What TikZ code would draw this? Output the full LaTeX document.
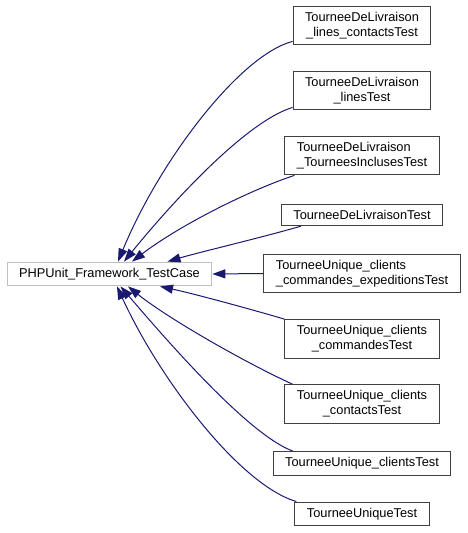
\documentclass[tikz,border=0pt]{standalone}
\usepackage{fontspec}
\setmainfont{Liberation Sans}
\usetikzlibrary{arrows.meta,calc}
\definecolor{edgeblue}{HTML}{191970}
\tikzset{
  class node/.style={draw=black!75,line width=1pt,fill=white,inner xsep=12pt,inner ysep=6pt,font=\fontsize{12.8}{15}\selectfont,align=center},
  base node/.style={class node,draw=black!25},
  inherit edge/.style={edgeblue,line width=1pt,-{Triangle[length=13pt,width=9pt]}},
}

\begin{document}
\begin{tikzpicture}[x=1pt,y=-1pt]
  \useasboundingbox (0,0) rectangle (467,533);
  \node[base node] (base) at (109.5,274) {PHPUnit\_Framework\_TestCase};
  \node[class node] (n1) at (362,25.5) {TourneeDeLivraison\\\_lines\_contactsTest};
  \node[class node] (n2) at (362,90.5) {TourneeDeLivraison\\\_linesTest};
  \node[class node,align=left] (n3) at (362,155.5) {TourneeDeLivraison\\\_TourneesInclusesTest};
  \node[class node] (n4) at (362,215) {TourneeDeLivraisonTest};
  \node[class node,align=left] (n5) at (362,273.5) {TourneeUnique\_clients\\\_commandes\_expeditionsTest};
  \node[class node] (n6) at (362,339) {TourneeUnique\_clients\\\_commandesTest};
  \node[class node] (n7) at (362,404) {TourneeUnique\_clients\\\_contactsTest};
  \node[class node] (n8) at (362,463.5) {TourneeUnique\_clientsTest};
  \node[class node] (n9) at (362,514) {TourneeUniqueTest};
  % upper children
  \draw[inherit edge] ($(n1.south west)+(0,-4)$) .. controls (240,55) and (160,160) .. ($(base.north)+(8.5,0)$);
  \draw[inherit edge] ($(n2.south west)+(0,-3)$) .. controls (245,122) and (170,205) .. ($(base.north)+(14.5,0)$);
  \draw[inherit edge] ($(n3.south west)+(10,0)$) .. controls (250,190) and (180,225) .. ($(base.north)+(22.5,0)$);
  \draw[inherit edge] ($(n4.south west)+(20,0)$) .. controls (260,238) and (200,252) .. ($(base.north)+(58,0)$);
  \draw[inherit edge] (n5.west) -- (base.east);
  % lower children
  \draw[inherit edge] (n6.north west) .. controls (250,309) and (195,294) .. ($(base.south)+(50.5,0)$);
  \draw[inherit edge] ($(n7.north west)+(8,0)$) .. controls (250,365) and (170,320) .. ($(base.south)+(18.5,0)$);
  \draw[inherit edge] ($(n8.north west)+(20,0)$) .. controls (250,435) and (175,350) .. ($(base.south)+(11,0)$);
  \draw[inherit edge] ($(n9.north west)+(2,0)$) .. controls (240,485) and (160,380) .. ($(base.south)+(7.5,0)$);
\end{tikzpicture}
\end{document}
